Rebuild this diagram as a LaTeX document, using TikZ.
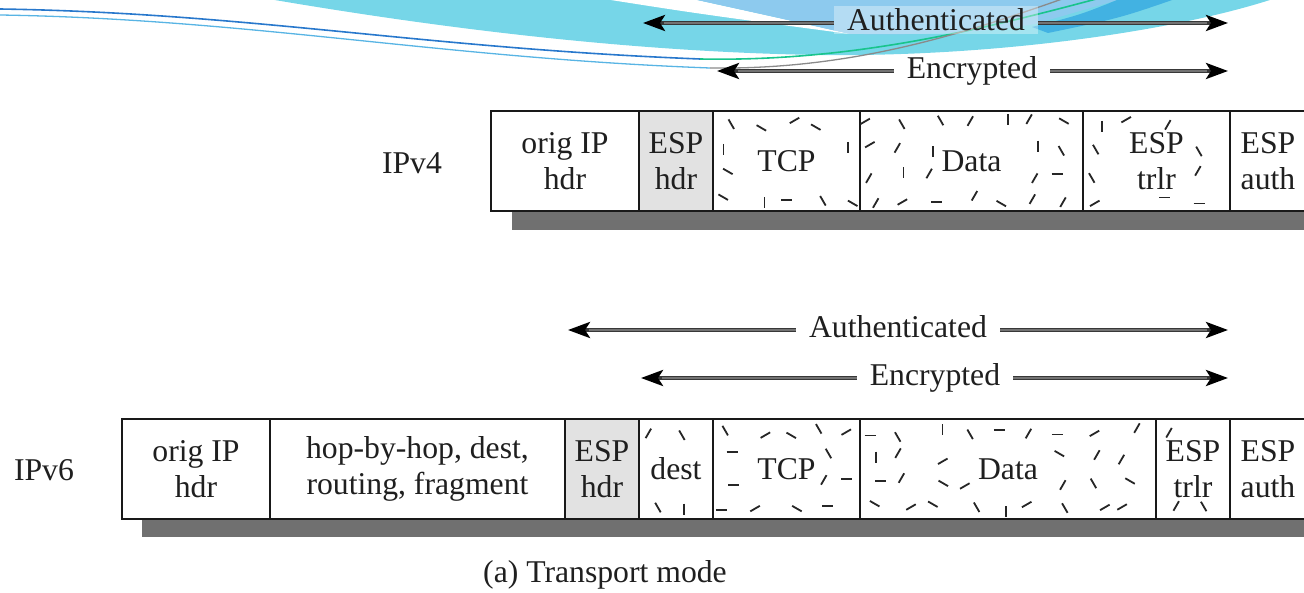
\documentclass[tikz,border=0pt]{standalone}
\usepackage{fontspec}
\setmainfont{Liberation Serif}
\usetikzlibrary{arrows.meta}

\definecolor{bandcyan}{RGB}{118,214,232}
\definecolor{bandsky}{RGB}{141,202,238}
\definecolor{banddeep}{RGB}{66,178,226}
\definecolor{swooshblue}{RGB}{40,120,204}
\definecolor{swooshpale}{RGB}{88,180,228}
\definecolor{swooshgreen}{RGB}{25,196,140}
\definecolor{swooshgray}{RGB}{138,138,138}
\definecolor{espgray}{RGB}{226,226,226}
\definecolor{dropgray}{RGB}{112,112,112}

\newcommand\cellfont{\fontsize{31.7}{36}\selectfont}

% scattered short strokes marking the encrypted fields
% #1 left, #2 right, #3 top, #4 half width and #5 half height of the text zone kept clear, #6 seed
\newcommand\confetti[6]{%
  \pgfmathsetseed{#6}%
  \pgfmathtruncatemacro\ncol{(#2-#1-16)/32}%
  \foreach \cx in {0,...,\ncol}{%
    \foreach \cy in {0,1,2,3}{%
      \pgfmathsetmacro\px{#1+13+\cx*32+rand*8}%
      \pgfmathsetmacro\py{#3+13+\cy*25+rand*5}%
      \pgfmathtruncatemacro\ang{30*floor(6*rnd)}%
      \pgfmathtruncatemacro\ok{and(\px<#2-7, or(abs(\px-(#1+#2)/2)>#4, abs(\py-#3-50)>#5))}%
      \ifnum\ok=1
        \draw[fleck] (\px,\py) +(\ang:-5.5) -- +(\ang:5.5);
      \fi
    }%
  }%
}

\tikzset{
  cellbox/.style={draw=black!90, line width=2.8pt, fill=white, minimum height=100pt,
    inner sep=0pt, align=center, font=\cellfont, text=black!88},
  hdrbox/.style={cellbox, fill=espgray},
  dropshadow/.style={fill=dropgray},
  fleck/.style={draw=black!85, line width=1.8pt},
  spanlabel/.style={anchor=base, inner xsep=13pt, inner ysep=3pt, font=\cellfont, text=black!88},
  spanarrow/.style={draw=black!78, line width=3.6pt,
    -{Stealth[length=22pt, width=16pt, inset=5pt, color=black]},
    postaction={draw=black!55, line width=1.6pt, -, shorten >=21pt}},
  sidelabel/.style={font=\cellfont, text=black!88},
}

\begin{document}
\begin{tikzpicture}[x=1pt, y=-1pt]
\useasboundingbox (0,0) rectangle (1304,593);

% ---- slide ornament along the top edge ----
\begin{scope}
  \clip (0,0) rectangle (1304,593);
  \fill[bandcyan] (263,-2) .. controls (420,25) and (620,52) .. (820,55)
        .. controls (1000,57) and (1180,30) .. (1276,-2) -- cycle;
  \fill[white] (598,-2) .. controls (700,14) .. (850,34) .. controls (770,16) .. (688,-2) -- cycle;
  \fill[bandsky] (688,-2) .. controls (770,16) .. (850,34)
        .. controls (940,36) and (1000,30) .. (1035,24) -- (1125,-2) -- cycle;
  \fill[banddeep] (1032,27) .. controls (1080,15) .. (1122,-2) -- (1178,-2)
        .. controls (1120,18) .. (1048,33) -- cycle;
  \draw[swooshblue, line width=1.6pt] (0,9) .. controls (250,13) and (420,48) .. (700,59);
  \draw[swooshgreen, line width=1.6pt] (700,59) .. controls (850,62) and (980,30) .. (1100,-2);
  \draw[swooshpale, line width=1.3pt] (0,15) .. controls (250,19) and (440,58) .. (710,68);
  \draw[swooshgray, line width=1.3pt] (710,68) .. controls (850,70) and (960,35) .. (1065,-2);
\end{scope}

% ---- IPv4 packet ----
\node[sidelabel] (lv4) at (412,163) {IPv4};
\fill[dropshadow] (512,131) rectangle (1330,230);
\node[cellbox, minimum width=148pt] (v4orig) at (565,161) {orig IP\\hdr};
\node[hdrbox,  minimum width=74pt]  (v4esph) at (676,161) {ESP\\hdr};
\node[cellbox, minimum width=147pt] (v4tcp)  at (786.5,161) {TCP};
\node[cellbox, minimum width=223pt] (v4data) at (971.5,161) {Data};
\node[cellbox, minimum width=147pt] (v4trlr) at (1156.5,161) {ESP\\trlr};
\node[cellbox, minimum width=76pt]  (v4auth) at (1268,161) {ESP\\auth};
\confetti{713}{860}{111}{37}{19}{11}
\confetti{860}{1083}{111}{38}{19}{23}
\confetti{1083}{1230}{111}{35}{36}{37}

% ---- IPv4 coverage arrows ----
\coordinate (a4L) at (643,23);  \coordinate (a4R) at (1228,23);
\coordinate (e4L) at (717,71);  \coordinate (e4R) at (1228,71);
\node[spanlabel, fill=white, fill opacity=0.35, text opacity=1] (a4) at (936,30.5) {Authenticated};
\node[spanlabel] (e4) at (972,78.5) {Encrypted};
\draw[spanarrow] (a4.west |- a4L) -- (a4L);
\draw[spanarrow] (a4.east |- a4R) -- (a4R);
\draw[spanarrow] (e4.west |- e4L) -- (e4L);
\draw[spanarrow] (e4.east |- e4R) -- (e4R);

% ---- IPv6 packet ----
\node[sidelabel] (lv6) at (44,470) {IPv6};
\fill[dropshadow] (142,440) rectangle (1330,537);
\node[cellbox, minimum width=148pt] (v6orig) at (196,469) {orig IP\\hdr};
\node[cellbox, minimum width=295pt] (v6ext)  at (417.5,469) {hop-by-hop, dest,\\routing, fragment};
\node[hdrbox,  minimum width=74pt]  (v6esph) at (602,469) {ESP\\hdr};
\node[cellbox, minimum width=74pt]  (v6dest) at (676,469) {dest};
\node[cellbox, minimum width=147pt] (v6tcp)  at (786.5,469) {TCP};
\node[cellbox, minimum width=296pt] (v6data) at (1008,469) {Data};
\node[cellbox, minimum width=74pt]  (v6trlr) at (1193,469) {ESP\\trlr};
\node[cellbox, minimum width=76pt]  (v6auth) at (1268,469) {ESP\\auth};
\confetti{639}{713}{419}{31}{19}{41}
\confetti{713}{860}{419}{37}{19}{53}
\confetti{860}{1156}{419}{38}{19}{67}
\confetti{1156}{1230}{419}{31}{36}{79}

% ---- IPv6 coverage arrows ----
\coordinate (a6L) at (568,330);  \coordinate (a6R) at (1228,330);
\coordinate (e6L) at (641,378);  \coordinate (e6R) at (1228,378);
\node[spanlabel] (a6) at (898,337.5) {Authenticated};
\node[spanlabel] (e6) at (935,385.5) {Encrypted};
\draw[spanarrow] (a6.west |- a6L) -- (a6L);
\draw[spanarrow] (a6.east |- a6R) -- (a6R);
\draw[spanarrow] (e6.west |- e6L) -- (e6L);
\draw[spanarrow] (e6.east |- e6R) -- (e6R);

% ---- caption ----
\node[sidelabel] (cap) at (605,575) {(a) Transport mode};
\end{tikzpicture}
\end{document}
